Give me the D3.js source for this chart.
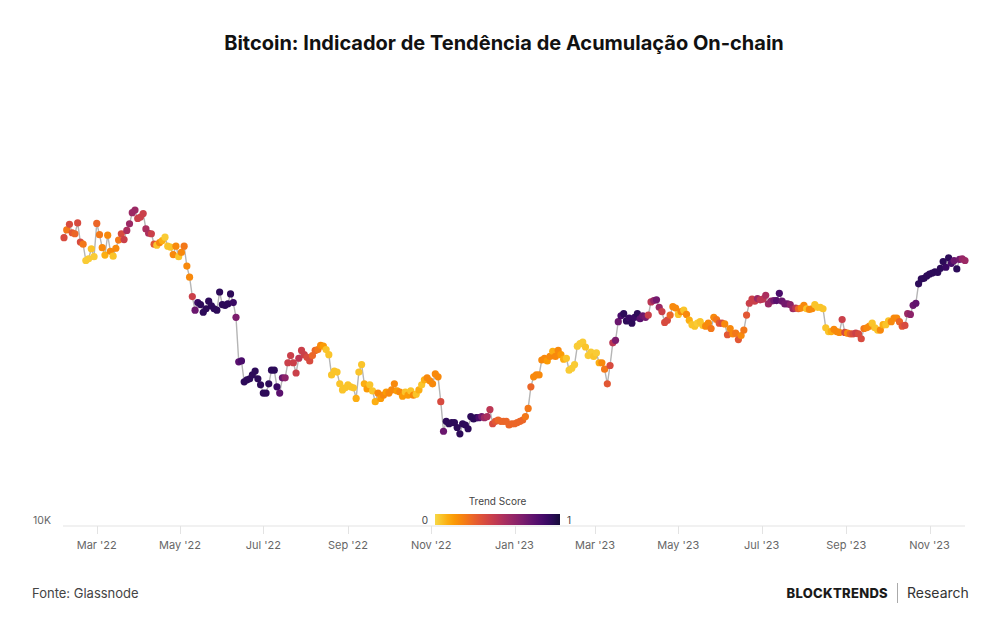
<!DOCTYPE html>
<html><head><meta charset="utf-8">
<script src="https://cdn.jsdelivr.net/npm/d3@7"></script>
<style>
body{margin:0;background:#fff;}
svg{display:block;font-family:Inter,'Noto Sans',sans-serif;}
</style>
</head><body>
<svg id="chart" width="1000" height="630"></svg>
<script>
// ---- DATA ----
const startDate = "2022-02-05";   // first observation
const stepDays = 2;               // spacing between observations
// BTC price (thousand USD)
const price = [
  // Feb 2022
  41.4, 43.0, 44.2, 42.4, 42.2, 44.5, 40.5, 40.1, 37.0, 37.3, 39.2, 37.7,
  // Mar 2022
  44.4, 42.0, 39.4, 38.0, 41.9, 38.7, 37.8, 39.3, 40.9, 42.2, 41.0, 42.9, 44.3, 46.8, 47.4, 45.5,
  // Apr 2022
  45.8, 46.6, 43.2, 42.3, 42.2, 40.1, 39.9, 40.4, 40.8, 41.5, 39.7, 39.5, 38.1, 39.7, 37.7,
  // May 2022
  38.5, 39.7, 36.0, 34.1, 31.0, 29.0, 30.1, 29.8, 28.7, 29.2, 30.3, 29.6, 29.2, 29.0, 31.7,
  // Jun 2022
  29.8, 29.7, 29.9, 31.4, 30.1, 28.0, 22.5, 22.6, 20.4, 20.6, 20.7, 21.1, 21.5, 20.7, 20.1,
  // Jul 2022
  19.3, 19.3, 20.2, 21.6, 21.6, 19.9, 19.3, 20.8, 20.8, 22.4, 23.2, 22.4, 21.3, 22.9, 23.8, 23.3,
  // Aug 2022
  23.0, 22.6, 23.2, 23.8, 23.9, 24.4, 24.3, 23.9, 23.3, 21.1, 21.5, 21.4, 20.2, 19.6, 19.8,
  // Sep 2022
  20.1, 19.9, 19.8, 18.8, 21.4, 22.2, 20.2, 19.7, 20.1, 19.5, 18.5, 19.3, 18.8, 19.1, 19.4,
  // Oct 2022
  19.3, 19.6, 20.2, 19.5, 19.4, 19.0, 19.4, 19.1, 19.5, 19.1, 19.2, 19.6, 20.1, 20.6, 20.8, 20.5,
  // Nov 2022
  20.2, 21.2, 20.9, 18.5, 16.0, 16.8, 16.6, 16.7, 16.7, 16.3, 15.8, 16.6, 16.5, 16.2, 17.2,
  // Dec 2022
  17.0, 17.1, 17.1, 17.2, 17.1, 17.2, 17.8, 16.6, 16.8, 16.9, 16.8, 16.8, 16.8, 16.5, 16.6,
  // Jan 2023
  16.6, 16.7, 16.8, 16.9, 17.2, 17.9, 19.9, 20.9, 21.1, 21.1, 22.7, 22.9, 22.6, 23.1, 23.7, 23.1,
  // Feb 2023
  23.8, 23.3, 22.8, 22.9, 21.6, 21.8, 22.2, 24.3, 24.6, 24.8, 24.2, 23.2, 23.6, 23.1,
  // Mar 2023
  23.5, 22.4, 22.4, 21.7, 20.2, 22.1, 24.7, 25.0, 27.4, 28.2, 28.5, 27.5, 27.9, 27.2, 28.0,
  // Apr 2023
  28.5, 27.8, 28.2, 28.0, 28.3, 30.2, 30.4, 30.5, 29.4, 28.8, 27.3, 27.6, 28.3, 29.5, 29.3,
  // May 2023
  28.4, 28.8, 29.0, 28.4, 27.6, 27.0, 26.8, 27.2, 27.4, 26.9, 26.8, 27.2, 26.5, 28.0, 27.7, 27.2,
  // Jun 2023
  27.2, 27.1, 25.7, 26.5, 25.8, 25.9, 25.1, 25.6, 26.3, 28.3, 30.0, 30.6, 30.3, 30.7, 30.5,
  // Jul 2023
  30.6, 31.2, 29.9, 30.3, 30.4, 30.4, 31.5, 30.3, 29.9, 29.9, 29.8, 29.2, 29.3, 29.2, 29.3,
  // Aug 2023
  29.7, 29.2, 29.1, 29.2, 29.8, 29.4, 29.4, 29.2, 26.6, 26.1, 26.1, 26.4, 26.1, 26.0, 27.7, 26.0,
  // Sep 2023
  25.9, 25.8, 25.8, 25.9, 25.8, 25.2, 26.5, 26.6, 26.8, 27.2, 26.6, 26.3, 26.3, 27.0, 27.0,
  // Oct 2023
  27.5, 27.4, 27.9, 27.9, 27.4, 26.8, 26.9, 28.5, 28.4, 29.7, 30.0, 33.0, 33.8, 33.9, 34.3,
  // Nov 2023
  34.6, 34.8, 35.0, 34.9, 35.6, 36.8, 35.8, 37.5, 36.5, 37.0, 35.5, 37.2, 37.3, 37.0
];
// Trend score (0 = distribution, 1 = accumulation)
const trendScore = [
  // Feb 2022
  0.4, 0.25, 0.4, 0.35, 0.3, 0.4, 0.4, 0.25, 0.03, 0.03, 0.05, 0.03,
  // Mar 2022
  0.3, 0.25, 0.2, 0.1, 0.2, 0.2, 0.05, 0.2, 0.25, 0.4, 0.45, 0.55, 0.6, 0.6, 0.6, 0.45,
  // Apr 2022
  0.45, 0.45, 0.55, 0.55, 0.45, 0.35, 0.05, 0.2, 0.1, 0.03, 0.05, 0.05, 0.2, 0.2, 0.05,
  // May 2022
  0.2, 0.25, 0.2, 0.2, 0.45, 0.75, 0.9, 0.93, 0.93, 0.93, 0.93, 0.93, 0.93, 0.93, 0.93,
  // Jun 2022
  0.93, 0.93, 0.93, 0.93, 0.9, 0.7, 0.8, 0.85, 0.93, 0.93, 0.93, 0.93, 0.93, 0.93, 0.93,
  // Jul 2022
  0.93, 0.93, 0.93, 0.93, 0.93, 0.9, 0.8, 0.75, 0.65, 0.45, 0.45, 0.45, 0.45, 0.5, 0.45, 0.45,
  // Aug 2022
  0.4, 0.4, 0.3, 0.3, 0.25, 0.2, 0.15, 0.05, 0.05, 0.05, 0.05, 0.05, 0.05, 0.05, 0.05,
  // Sep 2022
  0.05, 0.05, 0.05, 0.1, 0.05, 0.05, 0.1, 0.15, 0.05, 0.05, 0.1, 0.2, 0.15, 0.2, 0.15,
  // Oct 2022
  0.2, 0.2, 0.2, 0.15, 0.2, 0.15, 0.05, 0.15, 0.05, 0.2, 0.05, 0.1, 0.05, 0.1, 0.2, 0.2,
  // Nov 2022
  0.2, 0.2, 0.2, 0.4, 0.75, 0.93, 0.93, 0.93, 0.93, 0.93, 0.93, 0.93, 0.93, 0.93, 0.93,
  // Dec 2022
  0.93, 0.93, 0.85, 0.72, 0.6, 0.55, 0.5, 0.4, 0.35, 0.3, 0.3, 0.3, 0.3, 0.3, 0.3,
  // Jan 2023
  0.3, 0.3, 0.3, 0.3, 0.25, 0.25, 0.3, 0.2, 0.2, 0.2, 0.2, 0.2, 0.15, 0.2, 0.1, 0.2,
  // Feb 2023
  0.2, 0.15, 0.1, 0.05, 0.03, 0.03, 0.03, 0.03, 0.03, 0.03, 0.05, 0.03, 0.03, 0.05,
  // Mar 2023
  0.03, 0.1, 0.2, 0.25, 0.35, 0.4, 0.5, 0.7, 0.75, 0.85, 0.93, 0.93, 0.9, 0.93, 0.9,
  // Apr 2023
  0.93, 0.8, 0.75, 0.72, 0.45, 0.5, 0.62, 0.72, 0.6, 0.45, 0.4, 0.4, 0.3, 0.2, 0.2,
  // May 2023
  0.05, 0.2, 0.05, 0.2, 0.1, 0.05, 0.05, 0.03, 0.05, 0.05, 0.2, 0.2, 0.25, 0.2, 0.25, 0.35,
  // Jun 2023
  0.4, 0.2, 0.35, 0.2, 0.2, 0.25, 0.35, 0.2, 0.25, 0.35, 0.45, 0.45, 0.45, 0.6, 0.5,
  // Jul 2023
  0.5, 0.55, 0.6, 0.62, 0.72, 0.8, 0.85, 0.75, 0.72, 0.72, 0.65, 0.6, 0.5, 0.3, 0.2,
  // Aug 2023
  0.2, 0.05, 0.2, 0.2, 0.05, 0.05, 0.05, 0.05, 0.05, 0.05, 0.1, 0.2, 0.2, 0.2, 0.45, 0.4,
  // Sep 2023
  0.2, 0.3, 0.4, 0.45, 0.4, 0.4, 0.25, 0.2, 0.2, 0.05, 0.05, 0.05, 0.2, 0.1, 0.05,
  // Oct 2023
  0.05, 0.2, 0.2, 0.2, 0.3, 0.35, 0.4, 0.6, 0.65, 0.75, 0.78, 0.93, 0.93, 0.93, 0.93,
  // Nov 2023
  0.93, 0.93, 0.93, 0.93, 0.93, 0.93, 0.9, 0.93, 0.85, 0.75, 0.93, 0.72, 0.62, 0.6
];
const xTickDates = ["2022-03-01","2022-05-01","2022-07-01","2022-09-01","2022-11-01",
  "2023-01-01","2023-03-01","2023-05-01","2023-07-01","2023-09-01","2023-11-01"];
const yTickValues = [10000];
const yTickLabels = ["10K"];
const domainStart = "2022-02-05", domainEnd = "2023-11-27";

// ---- BUILD ----
const parse = d3.utcParse("%Y-%m-%d");
const t0 = parse(startDate);
const data = price.map((p, i) => ({
  date: d3.utcDay.offset(t0, i * stepDays),
  value: p * 1000,
  score: trendScore[i]
}));

const svg = d3.select("#chart");
const x = d3.scaleUtc().domain([parse(domainStart), parse(domainEnd)]).range([64, 965]);
const y = d3.scaleLog().domain([10000, 100000]).range([527, 58]);
const color = t => d3.interpolateInferno(0.9 - 0.8 * t);

// title
svg.append("text").attr("x", 504).attr("y", 50).attr("text-anchor", "middle")
  .attr("font-size", 20).attr("font-weight", 700).attr("fill", "#111")
  .text("Bitcoin: Indicador de Tendência de Acumulação On-chain");

// x axis
const axisY = 526;
svg.append("line").attr("x1", 63).attr("x2", 965).attr("y1", axisY).attr("y2", axisY)
  .attr("stroke", "#e3e3e3").attr("stroke-width", 1);
const fmt = d3.utcFormat("%b '%y");
const ticks = xTickDates.map(parse);
svg.selectAll(".xt").data(ticks).join("line")
  .attr("x1", d => Math.round(x(d)) + 0.5).attr("x2", d => Math.round(x(d)) + 0.5)
  .attr("y1", axisY).attr("y2", axisY + 8).attr("stroke", "#e3e3e3");
svg.selectAll(".xl").data(ticks).join("text")
  .attr("x", d => x(d)).attr("y", axisY + 23).attr("text-anchor", "middle")
  .attr("font-size", 11).attr("fill", "#666").text(d => fmt(d));

// y labels
svg.selectAll(".yl").data(yTickValues).join("text")
  .attr("x", 51).attr("y", d => y(d) - 3).attr("text-anchor", "end")
  .attr("font-size", 10.5).attr("fill", "#666").text((d, i) => yTickLabels[i]);

// line
const line = d3.line().x(d => x(d.date)).y(d => y(d.value));
svg.append("path").datum(data).attr("d", line).attr("fill", "none")
  .attr("stroke", "#b5b5b5").attr("stroke-width", 1.4);

// dots
svg.append("g").selectAll("circle").data(data).join("circle")
  .attr("cx", d => x(d.date)).attr("cy", d => y(d.value)).attr("r", 3.6)
  .attr("fill", d => color(d.score));

// legend
const lg = svg.append("defs").append("linearGradient").attr("id", "grad");
d3.range(0, 1.0001, 0.05).forEach(t => lg.append("stop")
  .attr("offset", (t * 100) + "%").attr("stop-color", color(t)));
const lx0 = 435, lx1 = 560;
svg.append("rect").attr("x", lx0).attr("y", 514).attr("width", lx1 - lx0).attr("height", 11)
  .attr("fill", "url(#grad)");
svg.append("text").attr("x", (lx0 + lx1) / 2).attr("y", 505).attr("text-anchor", "middle")
  .attr("font-size", 10).attr("fill", "#444").text("Trend Score");
svg.append("text").attr("x", lx0 - 7).attr("y", 523.5).attr("text-anchor", "end")
  .attr("font-size", 10).attr("fill", "#444").text("0");
svg.append("text").attr("x", lx1 + 7).attr("y", 523.5).attr("text-anchor", "start")
  .attr("font-size", 10).attr("fill", "#444").text("1");

// footer
svg.append("text").attr("x", 32).attr("y", 598).attr("font-size", 13).attr("fill", "#444")
  .text("Fonte: Glassnode");
svg.append("text").attr("x", 888).attr("y", 598).attr("text-anchor", "end")
  .attr("font-size", 13).attr("font-weight", 800).attr("fill", "#1a1a1a")
  .attr("letter-spacing", 0.3).text("BLOCKTRENDS");
svg.append("line").attr("x1", 897.5).attr("x2", 897.5).attr("y1", 583).attr("y2", 603)
  .attr("stroke", "#aaa").attr("stroke-width", 1);
svg.append("text").attr("x", 907).attr("y", 598).attr("font-size", 14).attr("fill", "#333")
  .text("Research");
</script>
</body></html>
